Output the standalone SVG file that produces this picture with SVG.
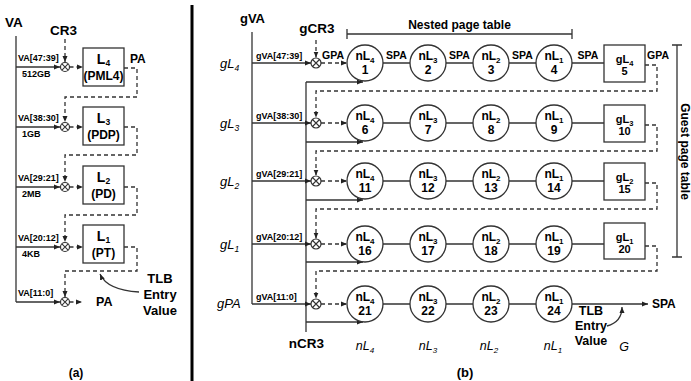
<svg xmlns="http://www.w3.org/2000/svg" width="691" height="381" viewBox="0 0 691 381">
<style>
text{font-family:"Liberation Sans",Arial,sans-serif;fill:#000}
.b{font-weight:bold}
.it{font-style:italic}
.ln{stroke:#333;stroke-width:1.3;fill:none}
.ds{stroke:#333;stroke-width:1.3;fill:none;stroke-dasharray:4,3}
.bx{stroke:#333;stroke-width:1.3;fill:#fff}
.s9{font-size:9px;font-weight:bold}
.s10{font-size:10.5px;font-weight:bold}
.s12{font-size:12px;font-weight:bold}
.s13{font-size:13px;font-weight:bold}
.mid{text-anchor:middle}
</style>
<defs>
<marker id="ah" viewBox="0 0 6 6" refX="6" refY="3" markerWidth="6" markerHeight="6" orient="auto" markerUnits="userSpaceOnUse"><path d="M0,0.5 L6,3 L0,5.5 z" fill="#222"/></marker>
<g id="ot"><circle r="4.5" fill="#fff" stroke="#333" stroke-width="1.2"/><path d="M-3.1,-3.1 L3.1,3.1 M-3.1,3.1 L3.1,-3.1" stroke="#333" stroke-width="1.1"/></g>
<g id="otb"><circle r="5" fill="#fff" stroke="#333" stroke-width="1.2"/><path d="M-3.5,-3.5 L3.5,3.5 M-3.5,3.5 L3.5,-3.5" stroke="#333" stroke-width="1.1"/></g>
</defs>
<rect width="691" height="381" fill="#fff"/>

<!-- divider -->
<line x1="192" y1="5" x2="192" y2="381" stroke="#000" stroke-width="3"/>

<!-- ===== Panel (a) ===== -->
<g id="a-connectors">
<path class="ln" d="M16,36 V302"/>
<path class="ln" d="M16,67 H60" marker-end="url(#ah)"/>
<path class="ln" d="M16,127 H60" marker-end="url(#ah)"/>
<path class="ln" d="M16,187 H60" marker-end="url(#ah)"/>
<path class="ln" d="M16,247 H60" marker-end="url(#ah)"/>
<path class="ln" d="M16,302 H60" marker-end="url(#ah)"/>
<path class="ds" d="M65,39 V62" marker-end="url(#ah)"/>
<path class="ds" d="M69.5,67 H83" marker-end="url(#ah)"/>
<path class="ds" d="M69.5,127 H83" marker-end="url(#ah)"/>
<path class="ds" d="M69.5,187 H83" marker-end="url(#ah)"/>
<path class="ds" d="M69.5,247 H83" marker-end="url(#ah)"/>
<path class="ds" d="M69.5,302 H82" marker-end="url(#ah)"/>
<path class="ds" d="M124,68 H137 V97 H65 V122" marker-end="url(#ah)"/>
<path class="ds" d="M124,127 H137 V155 H65 V182" marker-end="url(#ah)"/>
<path class="ds" d="M124,187 H137 V215 H65 V242" marker-end="url(#ah)"/>
<path class="ds" d="M124,247 H137 V271 H65 V297" marker-end="url(#ah)"/>
<path class="ln" d="M139,292 Q107,290 100,274" stroke-width="1" marker-end="url(#ah)"/>
<use href="#ot" x="65" y="67"/>
<use href="#ot" x="65" y="127"/>
<use href="#ot" x="65" y="187"/>
<use href="#ot" x="65" y="247"/>
<use href="#ot" x="65" y="302"/>
</g>
<g id="a-labels">
<text x="5" y="27" class="s13" style="font-size:13.5px">VA</text>
<text x="63.5" y="35" class="s13 mid" style="font-size:13.5px">CR3</text>
<text x="18" y="61" class="s9">VA[47:39]</text>
<text x="22" y="77" class="s9">512GB</text>
<text x="18" y="121" class="s9">VA[38:30]</text>
<text x="22" y="137" class="s9">1GB</text>
<text x="18" y="181" class="s9">VA[29:21]</text>
<text x="22" y="197" class="s9">2MB</text>
<text x="18" y="241" class="s9">VA[20:12]</text>
<text x="22" y="257" class="s9">4KB</text>
<text x="18" y="296" class="s9">VA[11:0]</text>
<text x="130" y="63" class="s12">PA</text>
<text x="96" y="306" class="s12" style="font-size:12.5px">PA</text>
<text x="160" y="283" class="s13 mid">TLB</text>
<text x="160" y="299" class="s13 mid">Entry</text>
<text x="160" y="315" class="s13 mid">Value</text>
<text x="76" y="377" class="s12 mid">(a)</text>
</g>
<g id="a-L4"><rect class="bx" x="83" y="48" width="41" height="38"/><text x="103.5" y="64" class="b mid" font-size="14">L<tspan font-size="8.5" dy="2">4</tspan></text><text x="103.5" y="80" class="s12 mid">(PML4)</text></g>
<g id="a-L3"><rect class="bx" x="83" y="107" width="41" height="38"/><text x="103.5" y="123" class="b mid" font-size="14">L<tspan font-size="8.5" dy="2">3</tspan></text><text x="103.5" y="139" class="s12 mid">(PDP)</text></g>
<g id="a-L2"><rect class="bx" x="83" y="166" width="41" height="38"/><text x="103.5" y="182" class="b mid" font-size="14">L<tspan font-size="8.5" dy="2">2</tspan></text><text x="103.5" y="198" class="s12 mid">(PD)</text></g>
<g id="a-L1"><rect class="bx" x="83" y="225" width="41" height="38"/><text x="103.5" y="241" class="b mid" font-size="14">L<tspan font-size="8.5" dy="2">1</tspan></text><text x="103.5" y="257" class="s12 mid">(PT)</text></g>

<!-- ===== Panel (b) ===== -->
<g id="b-connectors">
<path class="ln" d="M252,32 V304"/>
<path class="ln" d="M306,82 V332"/>
<path class="ds" d="M316,40 V57.5" marker-end="url(#ah)"/>
<path class="ln" d="M252,63 H311" marker-end="url(#ah)"/>
<path class="ln" d="M252,123 H311" marker-end="url(#ah)"/>
<path class="ln" d="M252,181 H311" marker-end="url(#ah)"/>
<path class="ln" d="M252,244 H311" marker-end="url(#ah)"/>
<path class="ln" d="M252,304 H311" marker-end="url(#ah)"/>
<path class="ln" d="M306,82 H363" marker-end="url(#ah)"/>
<path class="ln" d="M306,142 H363" marker-end="url(#ah)"/>
<path class="ln" d="M306,200 H363" marker-end="url(#ah)"/>
<path class="ln" d="M306,262 H363" marker-end="url(#ah)"/>
<path class="ln" d="M306,322 H363" marker-end="url(#ah)"/>
<path class="ds" d="M321,63 H347" marker-end="url(#ah)"/>
<path class="ds" d="M321,123 H347" marker-end="url(#ah)"/>
<path class="ds" d="M321,181 H347" marker-end="url(#ah)"/>
<path class="ds" d="M321,244 H347" marker-end="url(#ah)"/>
<path class="ds" d="M321,304 H347" marker-end="url(#ah)"/>
<path class="ln" d="M383,63 H410 M446,63 H473 M509,63 H536 M572,63 H604"/>
<path class="ln" d="M383,123 H410 M446,123 H473 M509,123 H536 M572,123 H604"/>
<path class="ln" d="M383,181 H410 M446,181 H473 M509,181 H536 M572,181 H604"/>
<path class="ln" d="M383,244 H410 M446,244 H473 M509,244 H536 M572,244 H604"/>
<path class="ln" d="M383,304 H410 M446,304 H473 M509,304 H536"/>
<path class="ln" d="M572,304 H648" marker-end="url(#ah)"/>
<path class="ds" d="M645,65 H657 V91 H316 V117.5" marker-end="url(#ah)"/>
<path class="ds" d="M645,125 H657 V151 H316 V175.5" marker-end="url(#ah)"/>
<path class="ds" d="M645,183 H657 V209 H316 V238.5" marker-end="url(#ah)"/>
<path class="ds" d="M645,246 H657 V271 H316 V298.5" marker-end="url(#ah)"/>
<path class="ln" d="M607,326 Q622,322 622,307" stroke-width="1" marker-end="url(#ah)"/>
<path class="ln" d="M347,34 H572 M347,29 V39 M572,29 V39"/>
<path class="ln" d="M677,45 V257 M672,45 H682 M672,257 H682"/>
<use href="#otb" x="316" y="63"/>
<use href="#otb" x="316" y="123"/>
<use href="#otb" x="316" y="181"/>
<use href="#otb" x="316" y="244"/>
<use href="#otb" x="316" y="304"/>
</g>
<g id="b-labels">
<text x="252.5" y="23" class="s13 mid">gVA</text>
<text x="317" y="33" class="s13 mid" style="font-size:13.5px">gCR3</text>
<text x="459.5" y="29" class="s12 mid">Nested page table</text>
<text transform="translate(681,151.5) rotate(90)" class="s12 mid">Guest page table</text>
<text x="256" y="59" class="s9">gVA[47:39]</text>
<text x="256" y="119" class="s9">gVA[38:30]</text>
<text x="256" y="177" class="s9">gVA[29:21]</text>
<text x="256" y="240" class="s9">gVA[20:12]</text>
<text x="256" y="300" class="s9">gVA[11:0]</text>
<text x="220" y="68" class="it" font-size="13">gL<tspan font-size="8.5" dy="3">4</tspan></text>
<text x="220" y="128" class="it" font-size="13">gL<tspan font-size="8.5" dy="3">3</tspan></text>
<text x="220" y="186" class="it" font-size="13">gL<tspan font-size="8.5" dy="3">2</tspan></text>
<text x="220" y="249" class="it" font-size="13">gL<tspan font-size="8.5" dy="3">1</tspan></text>
<text x="217" y="308" class="it" font-size="13">gPA</text>
<text x="322" y="59" class="s10">GPA</text>
<text x="396.5" y="59" class="s10 mid">SPA</text>
<text x="459.5" y="59" class="s10 mid">SPA</text>
<text x="522.5" y="59" class="s10 mid">SPA</text>
<text x="588" y="59" class="s10 mid">SPA</text>
<text x="647" y="59" class="s10">GPA</text>
<text x="652" y="308" class="s12">SPA</text>
<text x="306.5" y="348" class="s13 mid" style="font-size:13.5px">nCR3</text>
<text x="365" y="350" class="it mid" font-size="12.5">nL<tspan font-size="8" dy="3">4</tspan></text>
<text x="428" y="350" class="it mid" font-size="12.5">nL<tspan font-size="8" dy="3">3</tspan></text>
<text x="489" y="350" class="it mid" font-size="12.5">nL<tspan font-size="8" dy="3">2</tspan></text>
<text x="553" y="350" class="it mid" font-size="12.5">nL<tspan font-size="8" dy="3">1</tspan></text>
<text x="624" y="351" class="it mid" font-size="12.5">G</text>
<text x="591" y="315" class="s12 mid" style="font-size:12.5px">TLB</text>
<text x="591" y="330" class="s12 mid" style="font-size:12.5px">Entry</text>
<text x="591" y="345" class="s12 mid" style="font-size:12.5px">Value</text>
<text x="465" y="377" class="s12 mid" style="font-size:13px">(b)</text>
</g>

<g id="n1"><circle class="bx" cx="365" cy="63" r="18"/><text x="365" y="60" class="s12 mid">nL<tspan font-size="8" dy="3">4</tspan></text><text x="365" y="74" class="s12 mid">1</text></g>
<g id="n2"><circle class="bx" cx="428" cy="63" r="18"/><text x="428" y="60" class="s12 mid">nL<tspan font-size="8" dy="3">3</tspan></text><text x="428" y="74" class="s12 mid">2</text></g>
<g id="n3"><circle class="bx" cx="491" cy="63" r="18"/><text x="491" y="60" class="s12 mid">nL<tspan font-size="8" dy="3">2</tspan></text><text x="491" y="74" class="s12 mid">3</text></g>
<g id="n4"><circle class="bx" cx="554" cy="63" r="18"/><text x="554" y="60" class="s12 mid">nL<tspan font-size="8" dy="3">1</tspan></text><text x="554" y="74" class="s12 mid">4</text></g>
<g id="g5"><rect class="bx" x="604" y="45" width="41" height="37"/><text x="624.5" y="63" class="s10 mid" style="font-size:11px">gL<tspan font-size="7.5" dy="2.5">4</tspan></text><text x="624.5" y="75" class="s10 mid" style="font-size:11px">5</text></g>

<g id="n6"><circle class="bx" cx="365" cy="123" r="18"/><text x="365" y="120" class="s12 mid">nL<tspan font-size="8" dy="3">4</tspan></text><text x="365" y="134" class="s12 mid">6</text></g>
<g id="n7"><circle class="bx" cx="428" cy="123" r="18"/><text x="428" y="120" class="s12 mid">nL<tspan font-size="8" dy="3">3</tspan></text><text x="428" y="134" class="s12 mid">7</text></g>
<g id="n8"><circle class="bx" cx="491" cy="123" r="18"/><text x="491" y="120" class="s12 mid">nL<tspan font-size="8" dy="3">2</tspan></text><text x="491" y="134" class="s12 mid">8</text></g>
<g id="n9"><circle class="bx" cx="554" cy="123" r="18"/><text x="554" y="120" class="s12 mid">nL<tspan font-size="8" dy="3">1</tspan></text><text x="554" y="134" class="s12 mid">9</text></g>
<g id="g10"><rect class="bx" x="604" y="105" width="41" height="37"/><text x="624.5" y="123" class="s10 mid" style="font-size:11px">gL<tspan font-size="7.5" dy="2.5">3</tspan></text><text x="624.5" y="135" class="s10 mid" style="font-size:11px">10</text></g>

<g id="n11"><circle class="bx" cx="365" cy="181" r="18"/><text x="365" y="178" class="s12 mid">nL<tspan font-size="8" dy="3">4</tspan></text><text x="365" y="192" class="s12 mid">11</text></g>
<g id="n12"><circle class="bx" cx="428" cy="181" r="18"/><text x="428" y="178" class="s12 mid">nL<tspan font-size="8" dy="3">3</tspan></text><text x="428" y="192" class="s12 mid">12</text></g>
<g id="n13"><circle class="bx" cx="491" cy="181" r="18"/><text x="491" y="178" class="s12 mid">nL<tspan font-size="8" dy="3">2</tspan></text><text x="491" y="192" class="s12 mid">13</text></g>
<g id="n14"><circle class="bx" cx="554" cy="181" r="18"/><text x="554" y="178" class="s12 mid">nL<tspan font-size="8" dy="3">1</tspan></text><text x="554" y="192" class="s12 mid">14</text></g>
<g id="g15"><rect class="bx" x="604" y="163" width="41" height="37"/><text x="624.5" y="181" class="s10 mid" style="font-size:11px">gL<tspan font-size="7.5" dy="2.5">2</tspan></text><text x="624.5" y="193" class="s10 mid" style="font-size:11px">15</text></g>

<g id="n16"><circle class="bx" cx="365" cy="244" r="18"/><text x="365" y="241" class="s12 mid">nL<tspan font-size="8" dy="3">4</tspan></text><text x="365" y="255" class="s12 mid">16</text></g>
<g id="n17"><circle class="bx" cx="428" cy="244" r="18"/><text x="428" y="241" class="s12 mid">nL<tspan font-size="8" dy="3">3</tspan></text><text x="428" y="255" class="s12 mid">17</text></g>
<g id="n18"><circle class="bx" cx="491" cy="244" r="18"/><text x="491" y="241" class="s12 mid">nL<tspan font-size="8" dy="3">2</tspan></text><text x="491" y="255" class="s12 mid">18</text></g>
<g id="n19"><circle class="bx" cx="554" cy="244" r="18"/><text x="554" y="241" class="s12 mid">nL<tspan font-size="8" dy="3">1</tspan></text><text x="554" y="255" class="s12 mid">19</text></g>
<g id="g20"><rect class="bx" x="604" y="223" width="41" height="36"/><text x="624.5" y="241" class="s10 mid" style="font-size:11px">gL<tspan font-size="7.5" dy="2.5">1</tspan></text><text x="624.5" y="253" class="s10 mid" style="font-size:11px">20</text></g>

<g id="n21"><circle class="bx" cx="365" cy="304" r="18"/><text x="365" y="301" class="s12 mid">nL<tspan font-size="8" dy="3">4</tspan></text><text x="365" y="315" class="s12 mid">21</text></g>
<g id="n22"><circle class="bx" cx="428" cy="304" r="18"/><text x="428" y="301" class="s12 mid">nL<tspan font-size="8" dy="3">3</tspan></text><text x="428" y="315" class="s12 mid">22</text></g>
<g id="n23"><circle class="bx" cx="491" cy="304" r="18"/><text x="491" y="301" class="s12 mid">nL<tspan font-size="8" dy="3">2</tspan></text><text x="491" y="315" class="s12 mid">23</text></g>
<g id="n24"><circle class="bx" cx="554" cy="304" r="18"/><text x="554" y="301" class="s12 mid">nL<tspan font-size="8" dy="3">1</tspan></text><text x="554" y="315" class="s12 mid">24</text></g>
</svg>
